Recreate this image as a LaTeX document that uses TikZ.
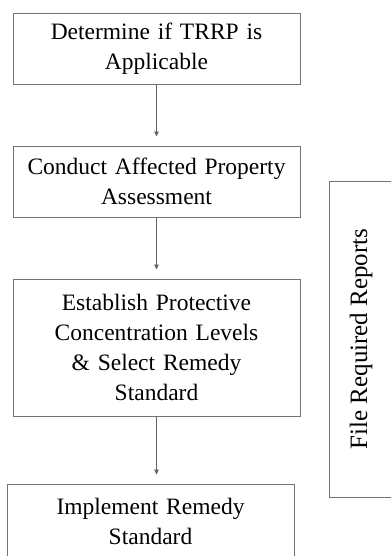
\documentclass[tikz,border=0pt]{standalone}
\usepackage{fontspec}
\setmainfont{Liberation Serif}
\usetikzlibrary{arrows.meta}

\begin{document}
\begin{tikzpicture}[
                        x=1pt, y=-1pt,
                        block/.style={rectangle, draw=black!55, line width=0.9pt,
                            minimum width=287pt, minimum height=71pt, inner sep=0pt,
                            text width=280pt, align=center, text=black,
                            font=\fontsize{23.5}{30}\selectfont},
                        link/.style={draw=black!60, line width=0.8pt,
                            -{Triangle[length=5pt,width=4.5pt]}, shorten >=9pt}
                    ]
                    \useasboundingbox (0,0) rectangle (391,556);
                    \clip (0,0) rectangle (391,556);
                    % Blocks
                    \node [block] (applicable) at (156.5,48.5) {Determine if TRRP is\\Applicable};
                    \node [block] (assessment) at (156.5,181.5) {Conduct Affected Property\\Assessment};
                    \node [block, minimum height=137pt] (levels) at (156.5,347.5) {Establish Protective\\Concentration Levels\\\& Select Remedy\\Standard};
                    \node [block, minimum height=75pt] (implement) at (150.5,521.5) {Implement Remedy\\Standard};
                    \node [rectangle, draw=black!55, line width=0.9pt, minimum width=316pt, minimum height=64pt,
                           rotate=90, text=black, font=\fontsize{25}{30}\selectfont] (reports) at (361,339) {File Required Reports};

                    % Connections
                    \draw [link] (applicable) -- (assessment);
                    \draw [link] (assessment) -- (levels);
                    \draw [link] (levels.south) -- (levels.south |- implement.north);
                \end{tikzpicture}
\end{document}
